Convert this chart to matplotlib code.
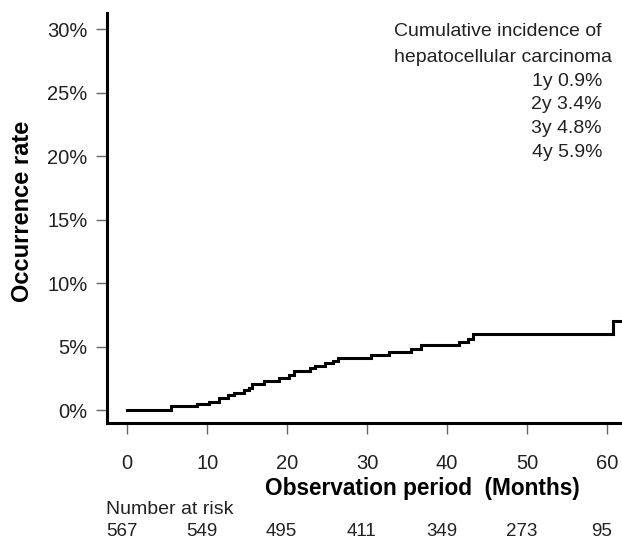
import numpy as np
import matplotlib
matplotlib.use("Agg")
import matplotlib.pyplot as plt
from matplotlib.ticker import FuncFormatter
from matplotlib.transforms import offset_copy

plt.rcParams["font.family"] = ["Liberation Sans", "DejaVu Sans"]

# ----------------------------------------------------------------------
# Cumulative HCC incidence curve (step function)
# ----------------------------------------------------------------------
months = [0, 5.5, 8.7, 10.2, 11.5, 12.6, 13.4, 14.6, 15.2, 15.6, 17.1, 19.0,
          20.25, 20.9, 22.9, 23.5, 24.8, 25.75, 26.4, 30.5, 32.75, 35.5,
          36.8, 41.5, 42.6, 43.2, 60.75, 62.0]
rate_pct = [0, 0.32, 0.47, 0.63, 0.95, 1.16, 1.37, 1.55, 1.74, 2.08, 2.32, 2.5,
            2.74, 3.08, 3.29, 3.47, 3.68, 3.87, 4.1, 4.34, 4.58, 4.79,
            5.1, 5.32, 5.58, 5.97, 7.05, 7.05]

x_ticks = [0, 10, 20, 30, 40, 50, 60]
y_ticks = [0, 5, 10, 15, 20, 25, 30]
at_risk = [567, 549, 495, 411, 349, 273, 95]

years = ["1y", "2y", "3y", "4y"]
cum_inc = [0.9, 3.4, 4.8, 5.9]

W, H = 622, 540
fig = plt.figure(figsize=(W / 100, H / 100), dpi=100)
ax = fig.add_axes([107 / W, 1 - 423 / H, (W - 107) / W, 410 / H])

ax.plot(months, rate_pct, drawstyle="steps-post", color="black", lw=2.2,
        solid_joinstyle="miter")

ax.set_xlim(-2.54, 61.9)
ax.set_ylim(-1.02, 31.26)
ax.set_xticks(x_ticks)
ax.set_yticks(y_ticks)
ax.yaxis.set_major_formatter(FuncFormatter(lambda v, _: f"{v:.0f}%"))

for side in ("top", "right"):
    ax.spines[side].set_visible(False)
for side in ("left", "bottom"):
    ax.spines[side].set_linewidth(2.2)
    ax.spines[side].set_color("black")

ax.tick_params(direction="out", length=8, width=1, color="#666666",
               labelsize=14.5, labelcolor="#222222")
ax.tick_params(axis="x", pad=14)
ax.tick_params(axis="y", pad=6)

fig.text(23 / W, 1 - 211 / H, "Occurrence rate", rotation=90,
         fontsize=17, fontweight="bold", ha="center", va="center")
fig.text(265 / W, 1 - 488 / H, "Observation period  (Months)",
         fontsize=16.3, fontweight="bold", ha="left", va="center")

# number at risk table
fig.text(106 / W, 1 - 509 / H, "Number at risk", fontsize=14,
         ha="left", va="center", color="#222222")
risk_tr = offset_copy(ax.get_xaxis_transform(), fig=fig, x=-4, y=0,
                      units="points")
for t, n in zip(x_ticks, at_risk):
    ax.text(t, -(532 - 423) / 410, str(n), transform=risk_tr, fontsize=13.5,
            ha="center", va="center", color="#222222", clip_on=False)

# annotation block
fig.text(394 / W, 1 - 32 / H, "Cumulative incidence of", fontsize=14,
         ha="left", va="center", color="#222222")
fig.text(394 / W, 1 - 57 / H, "hepatocellular carcinoma", fontsize=14,
         ha="left", va="center", color="#222222")
for i, (yr, v) in enumerate(zip(years, cum_inc)):
    fig.text(602 / W, 1 - (81 + i * 23.7) / H, f"{yr} {v:.1f}%",
             fontsize=14, ha="right", va="center", color="#222222")

fig.savefig("out.png", dpi=100)
